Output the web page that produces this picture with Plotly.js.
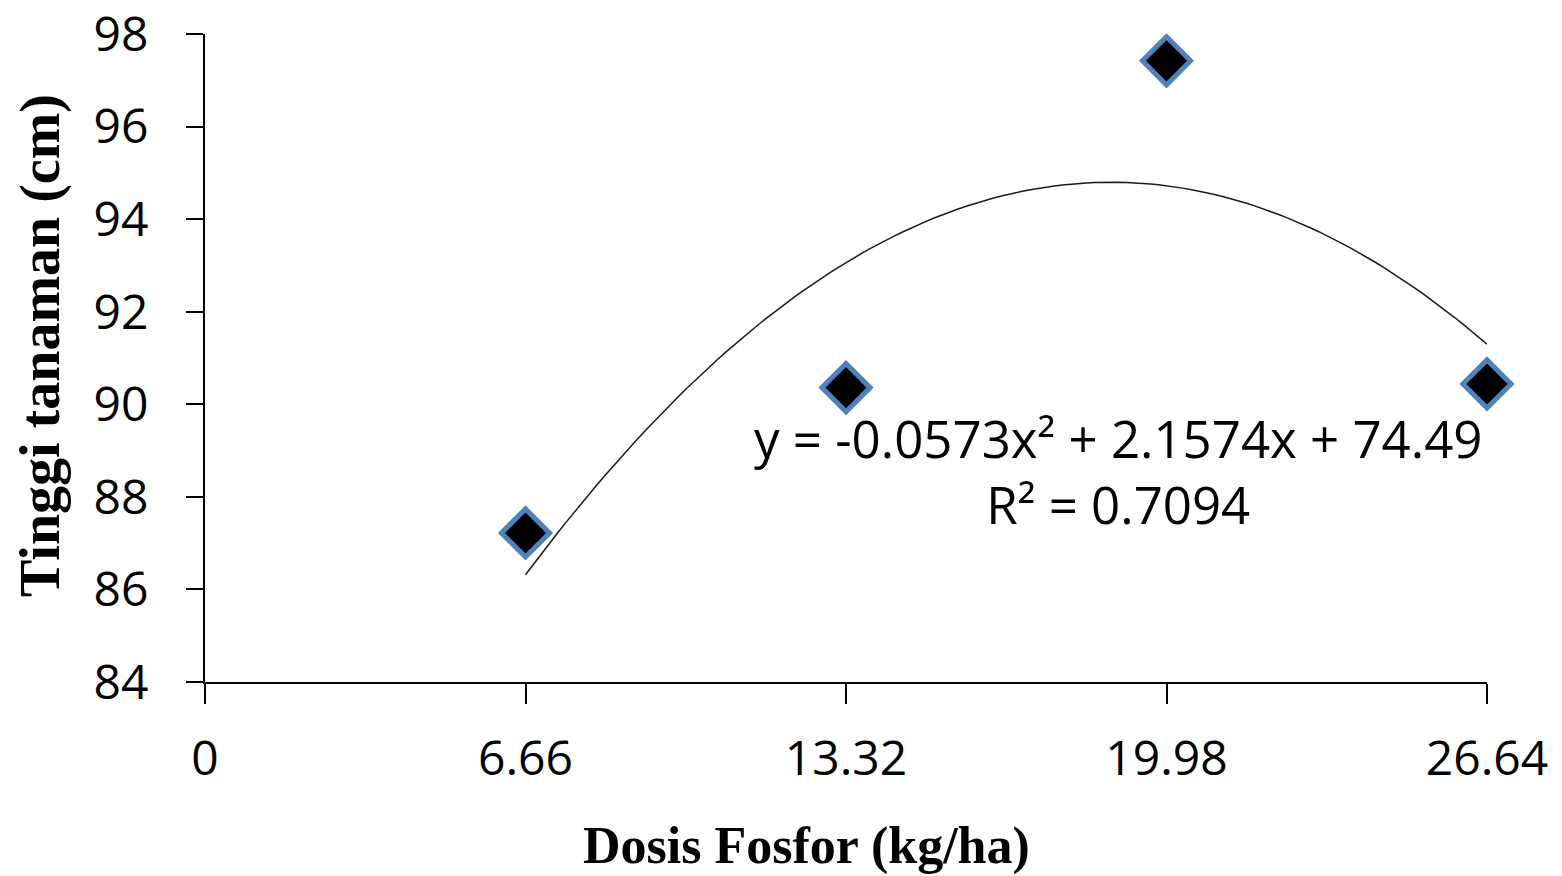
<!DOCTYPE html>
<html>
<head>
<meta charset="utf-8">
<script src="https://cdn.plot.ly/plotly-3.0.1.min.js"></script>
<style>
  html, body { margin: 0; padding: 0; background: #ffffff; }
  #chart { width: 1562px; height: 876px; }
</style>
</head>
<body>
<div id="chart"></div>
<script>
// Phosphorus dose (kg/ha) and plant height (cm)
const doseKgHa = [6.66, 13.32, 19.98, 26.64];
const plantHeightCm = [87.22, 90.36, 97.42, 90.44];

// Axis ticks
const xTickVals = [0, 6.66, 13.32, 19.98, 26.64];
const xTickText = ["0", "6.66", "13.32", "19.98", "26.64"];
const yTickVals = [84, 86, 88, 90, 92, 94, 96, 98];

// Quadratic trendline coefficients as printed: y = a*x^2 + b*x + c
const trendCoef = [-0.0573, 2.1574, 74.49];
const trendR2 = 0.7094;

// Sample the fitted polynomial across the range of the observed doses
const trendX = [];
const trendY = [];
const steps = 120;
const x0 = doseKgHa[0], x1 = doseKgHa[doseKgHa.length - 1];
for (let i = 0; i <= steps; i++) {
  const x = x0 + (x1 - x0) * i / steps;
  trendX.push(x);
  trendY.push(trendCoef[0] * x * x + trendCoef[1] * x + trendCoef[2]);
}

const fmt = v => (v < 0 ? "-" : "") + Math.abs(v).toString();
const eqText = "y = " + fmt(trendCoef[0]) + "x\u00B2 + " + trendCoef[1] + "x + " + trendCoef[2] +
               "<br>R\u00B2 = " + trendR2.toFixed(4);

const traces = [
  {
    x: trendX, y: trendY,
    type: "scatter", mode: "lines",
    line: { color: "#1a1a1a", width: 1.5 },
    hoverinfo: "skip"
  },
  {
    x: doseKgHa, y: plantHeightCm,
    type: "scatter", mode: "markers",
    cliponaxis: false,
    marker: { symbol: "diamond", size: 37, color: "#000000",
              line: { color: "#4F81BD", width: 5 } }
  }
];

const tickFont = { family: "Open Sans, sans-serif", size: 48, color: "#000000" };
const serif = "Liberation Serif, Times New Roman, serif";

const layout = {
  width: 1562, height: 876,
  margin: { l: 205, r: 75, t: 34, b: 194, pad: 0 },
  paper_bgcolor: "#ffffff", plot_bgcolor: "#ffffff",
  showlegend: false,
  xaxis: {
    range: [0, 26.64],
    tickmode: "array", tickvals: xTickVals, ticktext: xTickText,
    ticks: "outside", ticklen: 20, tickwidth: 2, tickcolor: "#000000",
    showline: true, linecolor: "#000000", linewidth: 2,
    showgrid: false, zeroline: false,
    tickfont: tickFont, ticklabelstandoff: 13, ticklabeloverflow: "allow"
  },
  yaxis: {
    range: [84, 98],
    tickmode: "array", tickvals: yTickVals,
    ticks: "outside", ticklen: 17, tickwidth: 2, tickcolor: "#000000",
    showline: true, linecolor: "#000000", linewidth: 2,
    showgrid: false, zeroline: false,
    tickfont: tickFont, ticklabelstandoff: 28, ticklabeloverflow: "allow"
  },
  annotations: [
    {
      text: "<b>Dosis Fosfor (kg/ha)</b>",
      xref: "paper", yref: "paper", x: (806 - 205) / 1282, y: -(846 - 682) / 648,
      xanchor: "center", yanchor: "middle", showarrow: false,
      font: { family: serif, size: 52, color: "#000000" }
    },
    {
      text: "<b>Tinggi tanaman (cm)</b>",
      xref: "paper", yref: "paper", x: (40 - 205) / 1282, y: (682 - 346) / 648,
      xanchor: "center", yanchor: "middle", textangle: -90, showarrow: false,
      font: { family: serif, size: 56, color: "#000000" }
    },
    {
      text: eqText,
      xref: "paper", yref: "paper", x: (1118 - 205) / 1282, y: (682 - 471) / 648,
      xanchor: "center", yanchor: "middle", align: "center", showarrow: false,
      font: { family: "Open Sans, sans-serif", size: 51, color: "#000000" }
    }
  ]
};

Plotly.newPlot("chart", traces, layout, { displayModeBar: false, staticPlot: true });
</script>
</body>
</html>
